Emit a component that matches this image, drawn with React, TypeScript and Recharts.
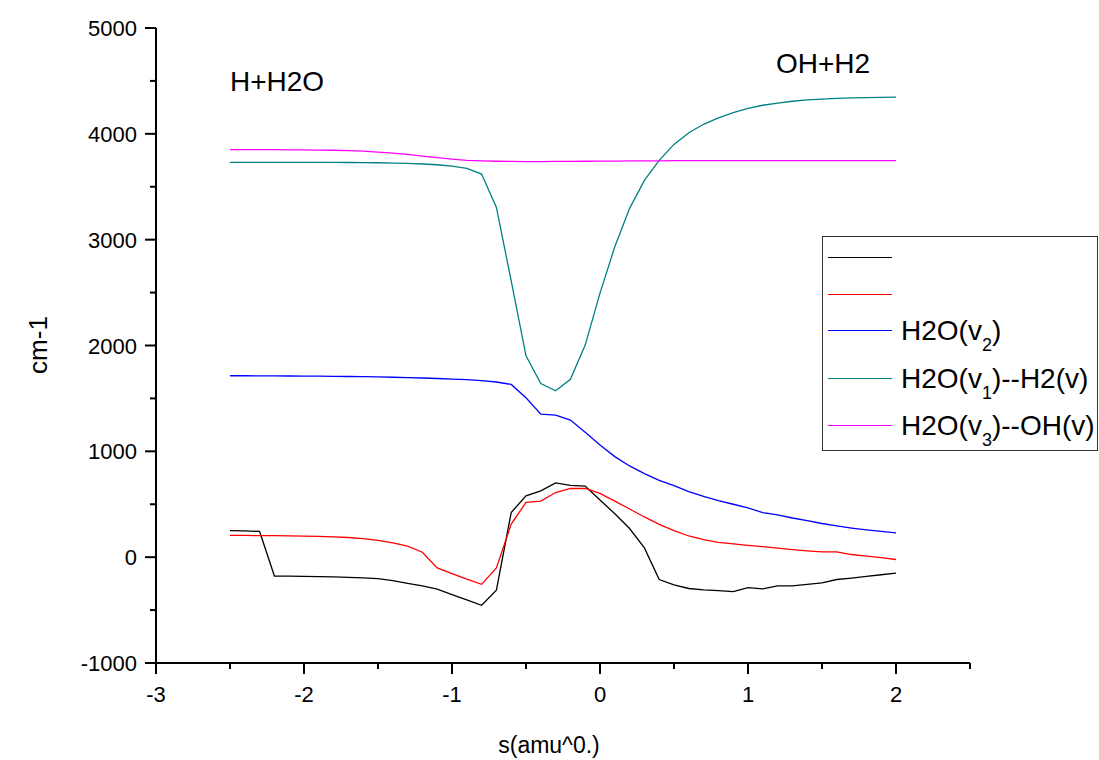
import { LineChart, Line, XAxis, YAxis, Legend } from "recharts";

// reaction coordinate s (amu^0.5 bohr)
const sValues = [
  -2.5, -2.4, -2.3, -2.2, -2.1, -2.0, -1.9, -1.8, -1.7, -1.6, -1.5, -1.4, -1.3, -1.2, -1.1, -1.0,
  -0.9, -0.8, -0.7, -0.6, -0.5, -0.4, -0.3, -0.2, -0.1, 0.0, 0.1, 0.2, 0.3, 0.4, 0.5, 0.6, 0.7,
  0.8, 0.9, 1.0, 1.1, 1.2, 1.3, 1.4, 1.5, 1.6, 1.7, 1.8, 1.9, 2.0,
];

const blackSeries = [
  250, 248, 243, -178, -179, -181, -184, -187, -191, -196, -203, -222, -247, -272, -302, -353,
  -403, -455, -312, 422, 580, 627, 702, 678, 672, 540, 410, 271, 88, -211, -262, -296, -310,
  -316, -326, -287, -299, -272, -272, -258, -242, -211, -198, -182, -166, -151,
];

const redSeries = [
  205, 205, 204, 203, 201, 199, 196, 192, 186, 175, 158, 135, 104, 47, -101, -155,
  -208, -257, -102, 312, 517, 529, 611, 649, 649, 602, 530, 455, 380, 310, 250, 200, 165,
  140, 125, 112, 100, 85, 72, 60, 50, 50, 25, 10, -5, -22,
];

const h2oV2 = [
  1714, 1714, 1713, 1713, 1712, 1711, 1710, 1709, 1707, 1705, 1703, 1700, 1697, 1693, 1688, 1683,
  1677, 1668, 1655, 1632, 1506, 1352, 1342, 1295, 1180, 1060, 950, 862, 790, 725, 675, 620, 575,
  535, 500, 465, 420, 400, 370, 345, 318, 295, 275, 258, 243, 230,
];

const h2oV1H2 = [
  3731, 3731, 3731, 3731, 3731, 3731, 3731, 3730, 3729, 3728, 3727, 3724, 3720, 3715, 3708, 3695,
  3674, 3620, 3305, 2610, 1903, 1641, 1572, 1680, 2004, 2495, 2933, 3296, 3560, 3750, 3900, 4010, 4090,
  4150, 4200, 4240, 4270, 4290, 4308, 4320, 4328, 4335, 4340, 4343, 4345, 4346,
];

const h2oV3OH = [
  3850, 3850, 3850, 3850, 3849, 3848, 3847, 3845, 3842, 3837, 3828, 3818, 3805, 3790, 3776, 3762,
  3750, 3744, 3741, 3739, 3738, 3738, 3739, 3740, 3741, 3742, 3743, 3744, 3745, 3745, 3746, 3746, 3746,
  3746, 3746, 3746, 3746, 3746, 3746, 3746, 3746, 3746, 3746, 3746, 3746, 3746,
];

const xTicks = [-3, -2.5, -2, -1.5, -1, -0.5, 0, 0.5, 1, 1.5, 2, 2.5];
const yTicks = [-1000, -500, 0, 500, 1000, 1500, 2000, 2500, 3000, 3500, 4000, 4500, 5000];

const seriesKeys = ["black", "red", "v2", "v1", "v3"];
const seriesColors = ["#000000", "#ff0000", "#0000ff", "#008080", "#ff00ff"];
// legend text: [before subscript, subscript, after subscript]
const legendLabels: (string[] | null)[] = [
  null,
  null,
  ["H2O(v", "2", ")"],
  ["H2O(v", "1", ")--H2(v)"],
  ["H2O(v", "3", ")--OH(v)"],
];

const FONT = "'Liberation Sans', Arial, Helvetica, sans-serif";

const data = sValues.map((s, i) => ({
  s,
  black: blackSeries[i],
  red: redSeries[i],
  v2: h2oV2[i],
  v1: h2oV1H2[i],
  v3: h2oV3OH[i],
}));

function YTick(props: any) {
  const { x, y, payload } = props;
  const major = payload.value % 1000 === 0;
  return (
    <g>
      <line x1={x} x2={x - (major ? 11 : 6)} y1={y} y2={y} stroke="#000" strokeWidth={2} />
      {major && (
        <text x={x - 19} y={y + 8} textAnchor="end" fontSize={22} fontFamily={FONT} fill="#000">
          {payload.value}
        </text>
      )}
    </g>
  );
}

function XTick(props: any) {
  const { x, y, payload } = props;
  const major = Number.isInteger(payload.value);
  return (
    <g>
      <line x1={x} x2={x} y1={y} y2={y + (major ? 11 : 6)} stroke="#000" strokeWidth={2} />
      {major && (
        <text x={x} y={y + 39} textAnchor="middle" fontSize={22} fontFamily={FONT} fill="#000">
          {payload.value}
        </text>
      )}
    </g>
  );
}

const rowTops = [21, 57.6, 94.3, 142, 188.6];

function LegendBox(props: any) {
  const payload: any[] = props.payload || [];
  return (
    <div
      style={{
        position: "relative",
        width: 276,
        height: 215,
        border: "1.5px solid #333",
        boxSizing: "border-box",
        background: "#fff",
        fontFamily: FONT,
      }}
    >
      {seriesKeys.map((key, i) => {
        const entry = payload.find((p) => p.dataKey === key);
        const color = entry ? entry.color : seriesColors[i];
        const label = legendLabels[i];
        return (
          <div key={key}>
            <div
              style={{
                position: "absolute",
                left: 5,
                top: rowTops[i] - 1,
                width: 64,
                height: 0,
                borderTop: `1.5px solid ${color}`,
              }}
            />
            {label && (
              <div
                style={{
                  position: "absolute",
                  left: 78,
                  top: rowTops[i] - 14,
                  fontSize: 28,
                  lineHeight: "28px",
                  whiteSpace: "nowrap",
                  color: "#000",
                }}
              >
                {label[0]}
                <span style={{ fontSize: 18, position: "relative", top: 11 }}>{label[1]}</span>
                {label[2]}
              </div>
            )}
          </div>
        );
      })}
    </div>
  );
}

export default function App() {
  return (
    <div style={{ position: "absolute", left: 0, top: 0, width: 1099, height: 760, background: "#fff" }}>
      <LineChart width={1099} height={760} data={data} margin={{ top: 28, right: 129, left: 96, bottom: 57 }}>
        <XAxis
          dataKey="s"
          type="number"
          domain={[-3, 2.5]}
          ticks={xTicks}
          interval={0}
          height={40}
          tickSize={0}
          tickMargin={0}
          tickLine={false}
          axisLine={{ stroke: "#000", strokeWidth: 2 }}
          tick={<XTick />}
          allowDataOverflow
        />
        <YAxis
          type="number"
          domain={[-1000, 5000]}
          ticks={yTicks}
          interval={0}
          width={60}
          tickSize={0}
          tickMargin={0}
          tickLine={false}
          axisLine={{ stroke: "#000", strokeWidth: 2 }}
          tick={<YTick />}
          allowDataOverflow
        />
        <Legend
          layout="vertical"
          align="center"
          verticalAlign="middle"
          itemSorter={null}
          content={<LegendBox />}
          wrapperStyle={{ left: 822, top: 236, width: 277, height: 215 }}
        />
        {seriesKeys.map((key, i) => (
          <Line
            key={key}
            type="linear"
            dataKey={key}
            stroke={seriesColors[i]}
            strokeWidth={1.3}
            dot={false}
            isAnimationActive={false}
          />
        ))}
      </LineChart>
      <svg
        width={1099}
        height={760}
        style={{ position: "absolute", left: 0, top: 0, pointerEvents: "none" }}
        fontFamily={FONT}
      >
        <text x={230} y={91} fontSize={28} fill="#000">H+H2O</text>
        <text x={776} y={73} fontSize={28} fill="#000">OH+H2</text>
        <text x={549} y={753} fontSize={23} textAnchor="middle" fill="#000">s(amu^0.)</text>
        <text
          x={0}
          y={0}
          fontSize={26}
          textAnchor="middle"
          fill="#000"
          transform="translate(47 345) rotate(-90)"
        >
          cm-1
        </text>
      </svg>
    </div>
  );
}
